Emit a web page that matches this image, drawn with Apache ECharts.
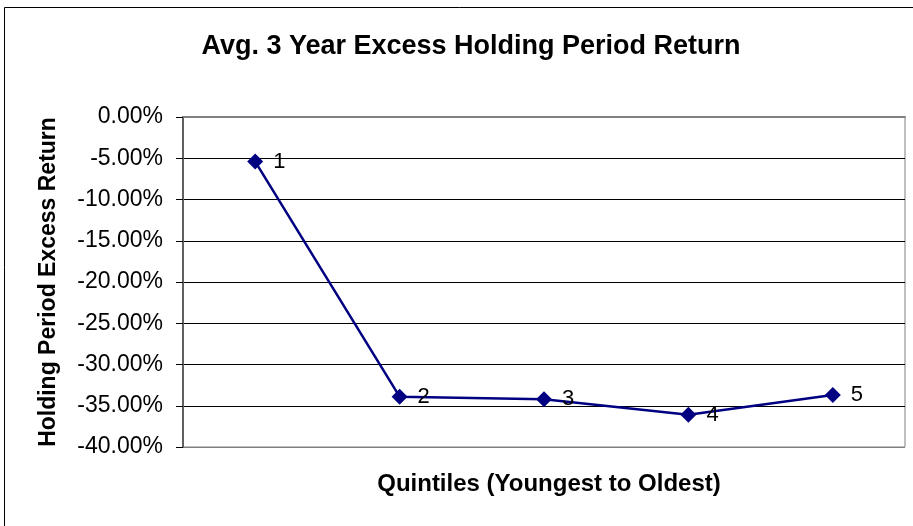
<!DOCTYPE html>
<html>
<head>
<meta charset="utf-8">
<script src="https://cdn.jsdelivr.net/npm/echarts@6/dist/echarts.min.js"></script>
<style>
  html, body { margin: 0; padding: 0; background: #fff; }
  #chart { width: 913px; height: 526px; }
</style>
</head>
<body>
<div id="chart"></div>
<script>
var quintiles = ['1', '2', '3', '4', '5'];
var excessReturn = [-5.4, -33.9, -34.2, -36.1, -33.7];

var chart = echarts.init(document.getElementById('chart'));
var option = {
  backgroundColor: '#fff',
  animation: false,
  graphic: [
    {
      type: 'rect',
      shape: { x: 4.5, y: 7.5, width: 920, height: 540 },
      style: { fill: 'none', stroke: '#000', lineWidth: 1 }
    }
  ],
  title: {
    text: 'Avg. 3 Year Excess Holding Period Return',
    left: 466,
    top: 28,
    textAlign: 'center',
    textStyle: { fontFamily: 'Liberation Sans, Arial', fontSize: 27, fontWeight: 'bold', color: '#000' }
  },
  grid: {
    left: 183,
    top: 117,
    right: 8,
    bottom: 79,
    show: true,
    borderColor: '#808080',
    borderWidth: 1
  },
  xAxis: {
    type: 'category',
    data: quintiles,
    boundaryGap: true,
    name: 'Quintiles (Youngest to Oldest)',
    nameLocation: 'middle',
    nameGap: 25,
    nameTextStyle: { fontFamily: 'Liberation Sans, Arial', fontSize: 24, fontWeight: 'bold', color: '#000', padding: [0, 0, 0, 10] },
    axisLine: { show: true, lineStyle: { color: '#808080', width: 2 } },
    axisTick: { show: false },
    axisLabel: { show: false }
  },
  yAxis: {
    type: 'value',
    min: -40,
    max: 0,
    interval: 5,
    name: 'Holding Period Excess Return',
    nameLocation: 'middle',
    nameGap: 123,
    nameTextStyle: { fontFamily: 'Liberation Sans, Arial', fontSize: 23, fontWeight: 'bold', color: '#000' },
    axisLine: { show: true, lineStyle: { color: '#606060', width: 2 } },
    axisTick: { show: true, length: 7, lineStyle: { color: '#000' } },
    axisLabel: {
      fontFamily: 'Liberation Sans, Arial',
      fontSize: 23,
      color: '#000',
      margin: 20,
      formatter: function (v) { return v.toFixed(2) + '%'; }
    },
    splitLine: {
      show: true,
      lineStyle: {
        color: ['#808080', '#000', '#000', '#000', '#000', '#000', '#000', '#000', '#808080'],
        width: 1
      }
    }
  },
  series: [
    {
      type: 'line',
      data: excessReturn,
      symbol: 'diamond',
      symbolSize: 16,
      itemStyle: { color: '#000080' },
      lineStyle: { color: '#000080', width: 2.5 },
      label: {
        show: true,
        position: 'right',
        distance: 10,
        fontFamily: 'Liberation Sans, Arial',
        fontSize: 22,
        color: '#000',
        formatter: function (p) { return quintiles[p.dataIndex]; }
      }
    }
  ]
};
chart.setOption(option);
</script>
</body>
</html>
